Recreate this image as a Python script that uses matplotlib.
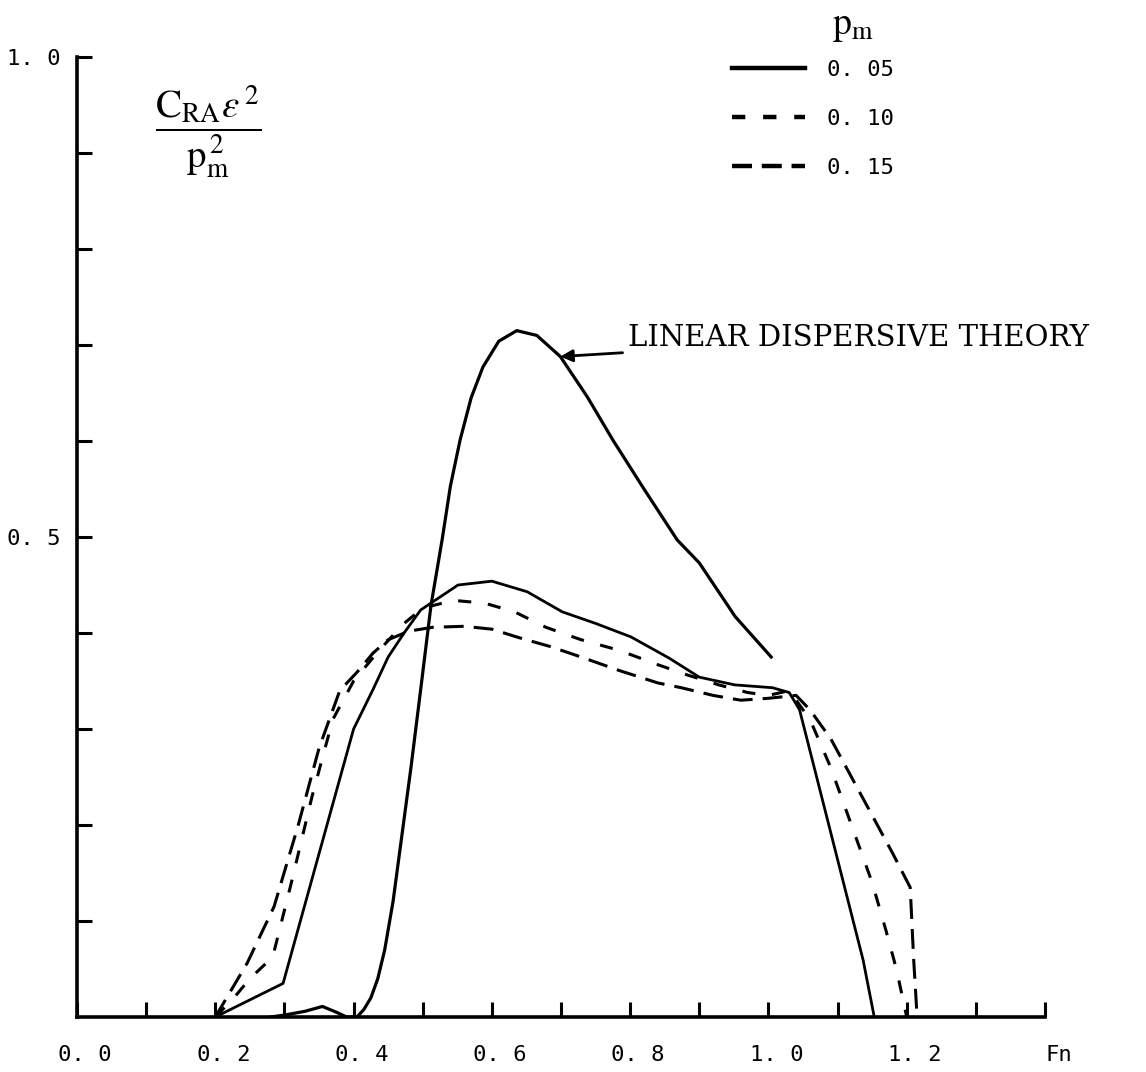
import numpy as np
import matplotlib.pyplot as plt
import matplotlib.transforms as mtransforms
from matplotlib.lines import Line2D
from matplotlib.ticker import FixedLocator, FixedFormatter

plt.rcParams['mathtext.fontset'] = 'stix'

# linear dispersive theory
fn_theory = [0.28, 0.30, 0.33, 0.355, 0.375, 0.39, 0.405, 0.415, 0.425, 0.435, 0.445, 0.457,
             0.47, 0.483, 0.497, 0.512, 0.528, 0.54, 0.554, 0.57, 0.587, 0.61, 0.636, 0.665,
             0.699, 0.738, 0.775, 0.82, 0.868, 0.90, 0.952, 1.004]
cr_theory = [0.0, 0.002, 0.006, 0.011, 0.005, 0.0, 0.0, 0.008, 0.02, 0.04, 0.07, 0.12,
             0.19, 0.26, 0.341, 0.429, 0.497, 0.553, 0.601, 0.645, 0.677, 0.704, 0.715, 0.71,
             0.688, 0.646, 0.601, 0.55, 0.497, 0.473, 0.417, 0.375]

# p_m = 0.05
fn_005 = [0.2, 0.298, 0.40, 0.428, 0.45, 0.473, 0.497, 0.551, 0.60, 0.651, 0.702, 0.75,
          0.801, 0.856, 0.90, 0.951, 1.006, 1.03, 1.045, 1.137, 1.153]
cr_005 = [0.0, 0.035, 0.30, 0.341, 0.375, 0.40, 0.424, 0.45, 0.454, 0.443, 0.422, 0.41,
          0.396, 0.374, 0.354, 0.346, 0.343, 0.338, 0.32, 0.059, 0.0]

# p_m = 0.10
fn_010 = [0.2, 0.227, 0.25, 0.283, 0.31, 0.34, 0.37, 0.40, 0.437, 0.473, 0.50, 0.545,
          0.59, 0.633, 0.678, 0.729, 0.784, 0.84, 0.884, 0.928, 0.97, 1.0, 1.03, 1.06,
          1.09, 1.12, 1.15, 1.17, 1.185, 1.20]
cr_010 = [0.0, 0.02, 0.04, 0.0625, 0.14, 0.23, 0.31, 0.35, 0.382, 0.41, 0.426, 0.434,
          0.431, 0.422, 0.406, 0.393, 0.382, 0.367, 0.356, 0.346, 0.338, 0.335, 0.34, 0.31,
          0.26, 0.20, 0.14, 0.09, 0.05, 0.0]

# p_m = 0.15
fn_015 = [0.2, 0.246, 0.285, 0.32, 0.35, 0.38, 0.406, 0.428, 0.45, 0.48, 0.515, 0.56,
          0.60, 0.64, 0.684, 0.729, 0.784, 0.84, 0.874, 0.92, 0.96, 1.0, 1.04, 1.06, 1.09,
          1.12, 1.15, 1.18, 1.205, 1.21, 1.215]
cr_015 = [0.0, 0.056, 0.115, 0.20, 0.28, 0.34, 0.36, 0.379, 0.393, 0.402, 0.406, 0.407,
          0.404, 0.395, 0.386, 0.375, 0.361, 0.348, 0.343, 0.335, 0.33, 0.332, 0.335, 0.32,
          0.29, 0.25, 0.21, 0.17, 0.135, 0.06, 0.0]

x_ticks = [round(0.1 * i, 1) for i in range(0, 15)]
x_labels = ['0. 0', '', '0. 2', '', '0. 4', '', '0. 6', '', '0. 8', '', '1. 0', '', '1. 2', '', 'Fn']
y_ticks = [round(0.1 * i, 1) for i in range(1, 11)]
y_labels = ['', '', '', '', '0. 5', '', '', '', '', '1. 0']

mono = 'DejaVu Sans Mono'
dots = (0, (4.3, 5.5))
dashes = (0, (6.5, 3.3))

fig = plt.figure(figsize=(11.46, 10.72), dpi=100)
ax = fig.add_axes([0.0672, 0.0513, 0.8447, 0.8955])

ax.plot(fn_theory, cr_theory, color='black', lw=2.3)
ax.plot(fn_005, cr_005, color='black', lw=2.0)
ax.plot(fn_010, cr_010, color='black', lw=2.2, linestyle=dots)
ax.plot(fn_015, cr_015, color='black', lw=2.2, linestyle=dashes)

ax.set_xlim(0, 1.4)
ax.set_ylim(0, 1.0)
for s in ['top', 'right']:
    ax.spines[s].set_visible(False)
for s in ['left', 'bottom']:
    ax.spines[s].set_linewidth(2.6)

ax.xaxis.set_major_locator(FixedLocator(x_ticks))
ax.xaxis.set_major_formatter(FixedFormatter(x_labels))
ax.yaxis.set_major_locator(FixedLocator(y_ticks))
ax.yaxis.set_major_formatter(FixedFormatter(y_labels))
ax.tick_params(axis='both', direction='in', length=11, width=2.2, labelsize=16)
ax.tick_params(axis='x', pad=20)
ax.tick_params(axis='y', pad=12)
# typed labels sit a little right of their ticks
shift = mtransforms.ScaledTranslation(8 / 100, 0, fig.dpi_scale_trans)
xlbls = ax.get_xticklabels()
for lbl in xlbls[:-1]:
    lbl.set_transform(lbl.get_transform() + shift)
for lbl in xlbls + ax.get_yticklabels():
    lbl.set_family(mono)
xlbls[-1].set_horizontalalignment('left')

# y quantity
ax.text(0.19, 0.922, r'$\dfrac{\mathrm{C}_{\mathrm{RA}}\epsilon^{\,2}}{\mathrm{p}_{\mathrm{m}}^{\,2}}$',
        fontsize=28, ha='center', va='center')

# legend
handles = [Line2D([], [], color='black', lw=3.2),
           Line2D([], [], color='black', lw=3.2, linestyle=(0, (3.0, 4.0))),
           Line2D([], [], color='black', lw=3.2, linestyle=(0, (4.5, 2.2)))]
ax.legend(handles, ['0. 05', '0. 10', '0. 15'], loc='upper left',
          bbox_to_anchor=(0.947, 0.997), bbox_transform=ax.transData,
          frameon=False, borderpad=0, borderaxespad=0, handlelength=3.3,
          handletextpad=1.0, labelspacing=1.3, prop={'family': mono, 'size': 16})
ax.text(1.092, 1.032, r'$\mathrm{p}_{\mathrm{m}}$', fontsize=27, ha='left', va='center')

ax.annotate('LINEAR DISPERSIVE THEORY', xy=(0.699, 0.688), xytext=(0.797, 0.707),
            ha='left', va='center', family='DejaVu Serif', fontsize=21,
            arrowprops=dict(arrowstyle='-|>', color='black', lw=2, mutation_scale=18,
                            shrinkA=2, shrinkB=0))

fig.savefig('out.png', dpi=100)
